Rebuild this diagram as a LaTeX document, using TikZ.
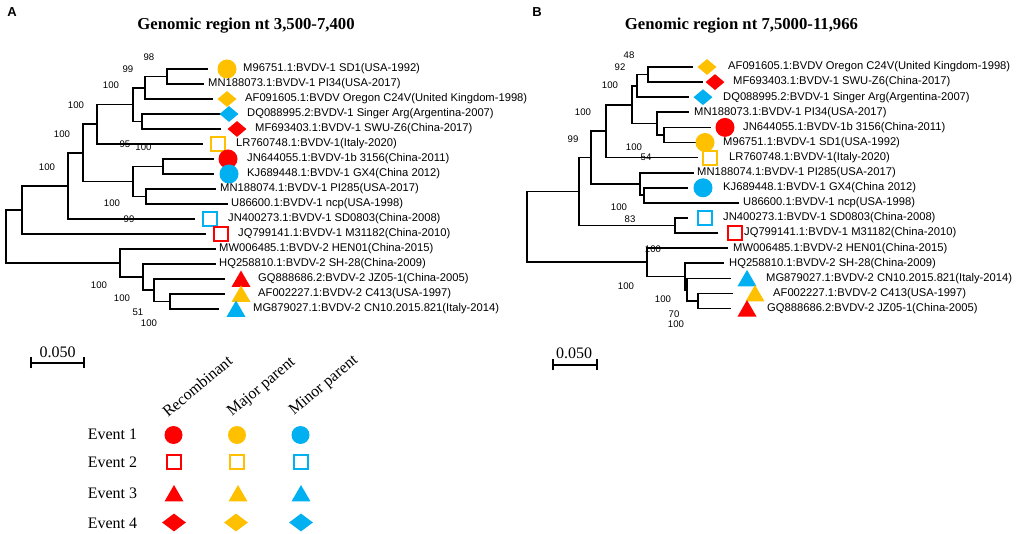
\documentclass[tikz,border=0pt]{standalone}
\usepackage{fontspec}
\setmainfont{Liberation Serif}
\newfontfamily\arial{Liberation Sans}
\usepackage{tikz}
\usetikzlibrary{shapes.geometric,arrows.meta}
\definecolor{recred}{RGB}{255,0,0}
\definecolor{majgold}{RGB}{255,192,0}
\definecolor{minblue}{RGB}{0,176,240}

\begin{document}
\begin{tikzpicture}[x=1pt,y=-1pt,
    branch/.style={line width=1.7pt,line cap=rect},
    leaf/.style={anchor=west,inner sep=0pt,font=\arial\fontsize{11.2}{13}\selectfont},
    boot/.style={inner sep=0pt,font=\arial\fontsize{9.6}{11}\selectfont},
    dot/.style={circle,fill=#1,inner sep=0pt,minimum size=19pt},
    box/.style={draw=#1,line width=2pt,inner sep=0pt,minimum size=14pt},
    tri/.style={regular polygon,regular polygon sides=3,fill=#1,inner sep=0pt,minimum size=22pt},
    dia/.style={diamond,fill=#1,inner sep=0pt,minimum width=19pt,minimum height=16pt},
    title/.style={anchor=base,font=\bfseries\fontsize{16.7}{20}\selectfont},
    panel/.style={font=\arial\bfseries\fontsize{13}{15}\selectfont},
    event/.style={font=\fontsize{16}{19}\selectfont},
    head/.style={rotate=40,anchor=base west,inner sep=0pt,font=\fontsize{16}{19}\selectfont},
    scalebar/.style={line width=1.6pt,{Bar[width=11pt]}-{Bar[width=11pt]}}]

  \useasboundingbox (0,0) rectangle (1021,534);

  % panel A
  \node[panel] (pA) at (12,12) {A};
  \node[title] (tA) at (246,29.5) {Genomic region nt 3,500-7,400};

  \coordinate (A1) at (207,69);
  \coordinate (A2) at (203,84);
  \coordinate (A3) at (212,99);
  \coordinate (A4) at (220,114);
  \coordinate (A5) at (220,129);
  \coordinate (A6) at (202,144);
  \coordinate (A7) at (213,159);
  \coordinate (A8) at (213,174);
  \coordinate (A9) at (215,189);
  \coordinate (A10) at (227,204);
  \coordinate (A11) at (194,219);
  \coordinate (A12) at (205,234);
  \coordinate (A13) at (215,249);
  \coordinate (A14) at (215,264);
  \coordinate (A15) at (224,279);
  \coordinate (A16) at (224,294);
  \coordinate (A17) at (218,309);

  \coordinate (Aa) at (167,76.5);
  \coordinate (Ab) at (145,87.75);
  \coordinate (Ac) at (142,121.5);
  \coordinate (Ad) at (133,104.6);
  \coordinate (Ae) at (97,124.3);
  \coordinate (Af) at (163,166.5);
  \coordinate (Ag) at (146,196.5);
  \coordinate (Ah) at (133,181.5);
  \coordinate (Ai) at (83,152.9);
  \coordinate (Aj) at (68,186);
  \coordinate (Ak) at (22,210);
  \coordinate (Ao) at (170,301.5);
  \coordinate (An) at (154,290.25);
  \coordinate (Am) at (143,277.1);
  \coordinate (Al) at (120,263.1);
  \coordinate (Aroot) at (6,236.5);

  \draw[branch] (Aroot) |- (Ak) (Aroot) |- (Al)
    (Ak) |- (Aj) (Ak) |- (A12)
    (Aj) |- (Ai) (Aj) |- (A11)
    (Ai) |- (Ae) (Ai) |- (Ah)
    (Ae) |- (Ad) (Ae) |- (A6)
    (Ad) |- (Ab) (Ad) |- (Ac)
    (Ab) |- (Aa) (Ab) |- (A3)
    (Aa) |- (A1) (Aa) |- (A2)
    (Ac) |- (A4) (Ac) |- (A5)
    (Ah) |- (Af) (Ah) |- (Ag)
    (Af) |- (A7) (Af) |- (A8)
    (Ag) |- (A9) (Ag) |- (A10)
    (Al) |- (A13) (Al) |- (Am)
    (Am) |- (A14) (Am) |- (An)
    (An) |- (A15) (An) |- (Ao)
    (Ao) |- (A16) (Ao) |- (A17);

  \node[dot=majgold] (A1m) at (227,69) {};
  \node[dia=majgold] (A3m) at (227,99) {};
  \node[dia=minblue] (A4m) at (229,114) {};
  \node[dia=recred] (A5m) at (237,129) {};
  \node[box=majgold] (A6m) at (218,144) {};
  \node[dot=recred] (A7m) at (228,159) {};
  \node[dot=minblue] (A8m) at (229,174) {};
  \node[box=minblue] (A11m) at (210,219) {};
  \node[box=recred] (A12m) at (221,234) {};
  \node[tri=recred] (A15m) at (241,281.5) {};
  \node[tri=majgold] (A16m) at (241,296.5) {};
  \node[tri=minblue] (A17m) at (236,311.5) {};

  \node[leaf] (A1t) at (243,69) {M96751.1:BVDV-1 SD1(USA-1992)};
  \node[leaf] (A2t) at (208,84) {MN188073.1:BVDV-1 PI34(USA-2017)};
  \node[leaf] (A3t) at (245,99) {AF091605.1:BVDV Oregon C24V(United Kingdom-1998)};
  \node[leaf] (A4t) at (247,114) {DQ088995.2:BVDV-1 Singer Arg(Argentina-2007)};
  \node[leaf] (A5t) at (255,129) {MF693403.1:BVDV-1 SWU-Z6(China-2017)};
  \node[leaf] (A6t) at (236,144) {LR760748.1:BVDV-1(Italy-2020)};
  \node[leaf] (A7t) at (247,159) {JN644055.1:BVDV-1b 3156(China-2011)};
  \node[leaf] (A8t) at (247,174) {KJ689448.1:BVDV-1 GX4(China 2012)};
  \node[leaf] (A9t) at (220,189) {MN188074.1:BVDV-1 PI285(USA-2017)};
  \node[leaf] (A10t) at (231,204) {U86600.1:BVDV-1 ncp(USA-1998)};
  \node[leaf] (A11t) at (228,219) {JN400273.1:BVDV-1 SD0803(China-2008)};
  \node[leaf] (A12t) at (238,234) {JQ799141.1:BVDV-1 M31182(China-2010)};
  \node[leaf] (A13t) at (219,249) {MW006485.1:BVDV-2 HEN01(China-2015)};
  \node[leaf] (A14t) at (219,264) {HQ258810.1:BVDV-2 SH-28(China-2009)};
  \node[leaf] (A15t) at (258,279) {GQ888686.2:BVDV-2 JZ05-1(China-2005)};
  \node[leaf] (A16t) at (258,294) {AF002227.1:BVDV-2 C413(USA-1997)};
  \node[leaf] (A17t) at (253,309) {MG879027.1:BVDV-2 CN10.2015.821(Italy-2014)};

  \node[boot] (Ab1) at (149,57) {98};
  \node[boot] (Ab2) at (128,69) {99};
  \node[boot] (Ab3) at (111,85) {100};
  \node[boot] (Ab4) at (76,105) {100};
  \node[boot] (Ab5) at (62,134) {100};
  \node[boot] (Ab6) at (47,167) {100};
  \node[boot] (Ab7) at (125,144) {95};
  \node[boot] (Ab8) at (143.5,147.5) {100};
  \node[boot] (Ab9) at (112,203) {100};
  \node[boot] (Ab10) at (129,219) {99};
  \node[boot] (Ab11) at (99,285) {100};
  \node[boot] (Ab12) at (122,298) {100};
  \node[boot] (Ab13) at (138,312) {51};
  \node[boot] (Ab14) at (149,323) {100};

  \coordinate (sA1) at (30,363);
  \coordinate (sA2) at (85,363);
  \draw[scalebar] (sA1) -- (sA2);
  \node[event] (sAt) at (57.5,352) {0.050};

  % panel B
  \node[panel] (pB) at (537,12) {B};
  \node[title] (tB) at (741.5,29.5) {Genomic region nt 7,5000-11,966};

  \coordinate (B1) at (692,67);
  \coordinate (B2) at (702,82.1);
  \coordinate (B3) at (688,97.2);
  \coordinate (B4) at (688,112.3);
  \coordinate (B5) at (710,127.4);
  \coordinate (B6) at (695,142.5);
  \coordinate (B7) at (697,157.6);
  \coordinate (B8) at (693,172.7);
  \coordinate (B9) at (687,187.8);
  \coordinate (B10) at (738,202.9);
  \coordinate (B11) at (687,218);
  \coordinate (B12) at (717,233.1);
  \coordinate (B13) at (727,248.2);
  \coordinate (B14) at (723,263.3);
  \coordinate (B15) at (730,278.4);
  \coordinate (B16) at (732,293.5);
  \coordinate (B17) at (730,308.6);

  \coordinate (Ba) at (648,74.55);
  \coordinate (Bb) at (637,85.9);
  \coordinate (Bc) at (664,134.95);
  \coordinate (Bd) at (657,123.6);
  \coordinate (Be) at (632,104.75);
  \coordinate (Bf) at (606,131.2);
  \coordinate (Bg) at (644,195.35);
  \coordinate (Bh) at (640,184);
  \coordinate (Bi) at (591,157.6);
  \coordinate (Bj) at (675,225.55);
  \coordinate (Bk) at (579,191.6);
  \coordinate (Bo) at (698,301.05);
  \coordinate (Bn) at (687,289.7);
  \coordinate (Bm) at (685,276.5);
  \coordinate (Bl) at (647,262.35);
  \coordinate (Broot) at (527,227);

  \draw[branch] (Broot) |- (Bk) (Broot) |- (Bl)
    (Bk) |- (Bi) (Bk) |- (Bj)
    (Bi) |- (Bf) (Bi) |- (Bh)
    (Bf) |- (Be) (Bf) |- (B7)
    (Be) |- (Bb) (Be) |- (Bd)
    (Bb) |- (Ba) (Bb) |- (B3)
    (Ba) |- (B1) (Ba) |- (B2)
    (Bd) |- (B4) (Bd) |- (Bc)
    (Bc) |- (B5) (Bc) |- (B6)
    (Bh) |- (B8) (Bh) |- (Bg)
    (Bg) |- (B9) (Bg) |- (B10)
    (Bj) |- (B11) (Bj) |- (B12)
    (Bl) |- (B13) (Bl) |- (Bm)
    (Bm) |- (B14) (Bm) |- (Bn)
    (Bn) |- (B15) (Bn) |- (Bo)
    (Bo) |- (B16) (Bo) |- (B17);

  \node[dia=majgold] (B1m) at (707,67) {};
  \node[dia=recred] (B2m) at (715,82.1) {};
  \node[dia=minblue] (B3m) at (703,97.2) {};
  \node[dot=recred] (B5m) at (725,127.4) {};
  \node[dot=majgold] (B6m) at (705,142.5) {};
  \node[box=majgold] (B7m) at (710,157.6) {};
  \node[dot=minblue] (B9m) at (703,187.8) {};
  \node[box=minblue] (B11m) at (705,218) {};
  \node[box=recred] (B12m) at (735,233.1) {};
  \node[tri=minblue] (B15m) at (747,280.9) {};
  \node[tri=majgold] (B16m) at (755,296) {};
  \node[tri=recred] (B17m) at (747,311.1) {};

  \node[leaf] (B1t) at (728,67) {AF091605.1:BVDV Oregon C24V(United Kingdom-1998)};
  \node[leaf] (B2t) at (733,82.1) {MF693403.1:BVDV-1 SWU-Z6(China-2017)};
  \node[leaf] (B3t) at (723,97.2) {DQ088995.2:BVDV-1 Singer Arg(Argentina-2007)};
  \node[leaf] (B4t) at (694,112.3) {MN188073.1:BVDV-1 PI34(USA-2017)};
  \node[leaf] (B5t) at (743,127.4) {JN644055.1:BVDV-1b 3156(China-2011)};
  \node[leaf] (B6t) at (723,142.5) {M96751.1:BVDV-1 SD1(USA-1992)};
  \node[leaf] (B7t) at (729,157.6) {LR760748.1:BVDV-1(Italy-2020)};
  \node[leaf] (B8t) at (697,172.7) {MN188074.1:BVDV-1 PI285(USA-2017)};
  \node[leaf] (B9t) at (723,187.8) {KJ689448.1:BVDV-1 GX4(China 2012)};
  \node[leaf] (B10t) at (743,202.9) {U86600.1:BVDV-1 ncp(USA-1998)};
  \node[leaf] (B11t) at (723,218) {JN400273.1:BVDV-1 SD0803(China-2008)};
  \node[leaf] (B12t) at (744,233.1) {JQ799141.1:BVDV-1 M31182(China-2010)};
  \node[leaf] (B13t) at (733,248.2) {MW006485.1:BVDV-2 HEN01(China-2015)};
  \node[leaf] (B14t) at (729,263.3) {HQ258810.1:BVDV-2 SH-28(China-2009)};
  \node[leaf] (B15t) at (766,278.4) {MG879027.1:BVDV-2 CN10.2015.821(Italy-2014)};
  \node[leaf] (B16t) at (773,293.5) {AF002227.1:BVDV-2 C413(USA-1997)};
  \node[leaf] (B17t) at (767,308.6) {GQ888686.2:BVDV-2 JZ05-1(China-2005)};

  \node[boot] (Bb1) at (629,55) {48};
  \node[boot] (Bb2) at (620,67) {92};
  \node[boot] (Bb3) at (610,85) {100};
  \node[boot] (Bb4) at (583,112) {100};
  \node[boot] (Bb5) at (573,139) {99};
  \node[boot] (Bb6) at (634,147) {100};
  \node[boot] (Bb7) at (646,157.5) {54};
  \node[boot] (Bb8) at (619,207) {100};
  \node[boot] (Bb9) at (630,219) {83};
  \node[boot] (Bb10) at (653,249) {100};
  \node[boot] (Bb11) at (626,286) {100};
  \node[boot] (Bb12) at (663,299.5) {100};
  \node[boot] (Bb13) at (674,314) {70};
  \node[boot] (Bb14) at (676,324) {100};

  \coordinate (sB1) at (552,365);
  \coordinate (sB2) at (598,365);
  \draw[scalebar] (sB1) -- (sB2);
  \node[event] (sBt) at (574,353) {0.050};

  % legend
  \node[head] (hrec) at (168,418) {Recombinant};
  \node[head] (hmaj) at (232,417) {Major parent};
  \node[head] (hmin) at (294,416) {Minor parent};

  \node[event] (ev1) at (112.5,434) {Event 1};
  \node[event] (ev2) at (112.5,462.5) {Event 2};
  \node[event] (ev3) at (112.5,493) {Event 3};
  \node[event] (ev4) at (112.5,523.5) {Event 4};

  \node[dot=recred,minimum size=18pt] (e1r) at (173.5,435) {};
  \node[dot=majgold,minimum size=18pt] (e1j) at (237,435) {};
  \node[dot=minblue,minimum size=18pt] (e1n) at (300.5,435) {};
  \node[box=recred] (e2r) at (174,462.5) {};
  \node[box=majgold] (e2j) at (237,462.5) {};
  \node[box=minblue] (e2n) at (301,462.5) {};
  \node[tri=recred] (e3r) at (174,496) {};
  \node[tri=majgold] (e3j) at (238,496) {};
  \node[tri=minblue] (e3n) at (301,496) {};
  \node[dia=recred,minimum width=24pt,minimum height=18pt] (e4r) at (174,522.5) {};
  \node[dia=majgold,minimum width=24pt,minimum height=18pt] (e4j) at (236,522.5) {};
  \node[dia=minblue,minimum width=24pt,minimum height=18pt] (e4n) at (301,522.5) {};
\end{tikzpicture}
\end{document}
